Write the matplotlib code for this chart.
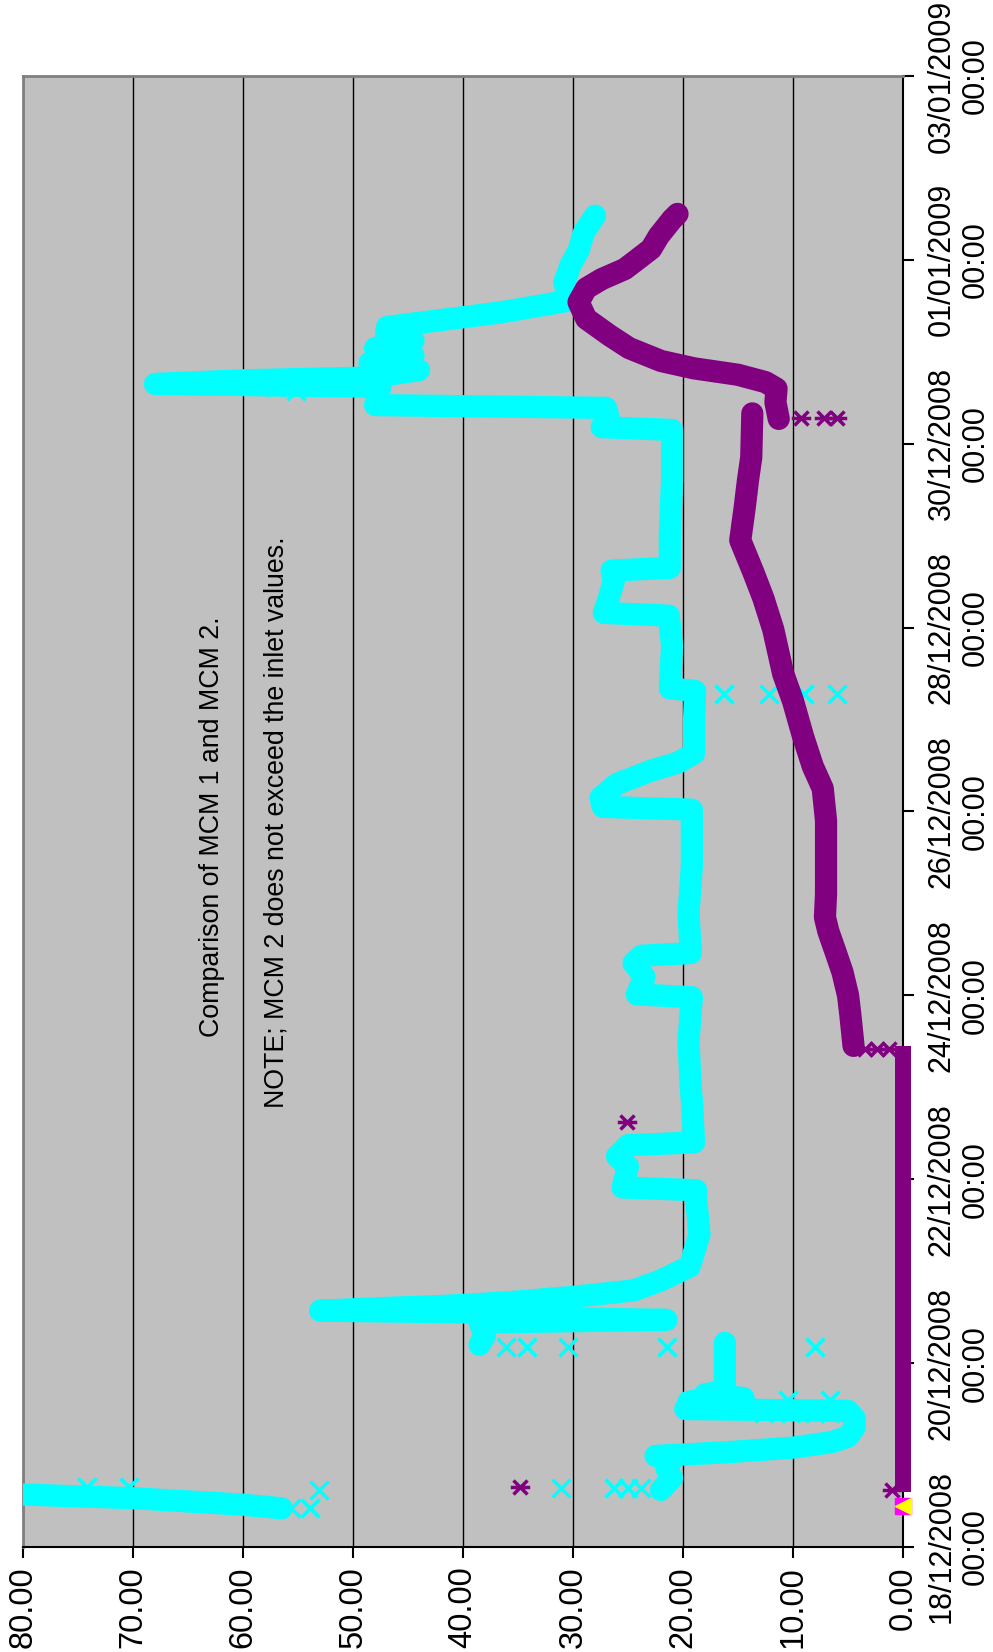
import numpy as np
import pandas as pd
import matplotlib
matplotlib.use('Agg')
import matplotlib.pyplot as plt
import matplotlib.dates as mdates
from matplotlib.path import Path
from matplotlib.ticker import FormatStrFormatter

plt.rcParams['font.family'] = ['Liberation Sans', 'DejaVu Sans']

start = pd.Timestamp('2008-12-18')
day_span = 16

# MCM 1 trace, days after 18/12/2008 00:00 and reading
mcm1_a_days = [0.42, 0.46, 0.53, 0.57, 0.59]
mcm1_a_vals = [56.5, 60.0, 70.0, 80.0, 84.0]

mcm1_b_days = [0.62, 0.75, 0.85, 0.95, 0.99, 1.03, 1.08, 1.14, 1.20, 1.30, 1.40, 1.48,
               1.50, 1.54, 1.58, 1.62, 1.66, 1.70, 2.00, 2.22]
mcm1_b_vals = [22.0, 21.0, 21.5, 21.0, 22.5, 16.0, 10.0, 6.5, 5.0, 4.4, 4.4, 5.0,
               19.8, 14.5, 19.5, 14.5, 18.0, 16.2, 16.2, 16.2]

mcm1_c_days = [2.20, 2.30, 2.44, 2.47, 2.50, 2.55, 2.57, 2.60, 2.62, 2.66, 2.72, 2.79,
               2.90, 3.05, 3.40, 3.77, 3.88, 3.91, 4.14, 4.25, 4.37, 4.40, 4.86,
               5.00, 5.50, 5.98, 6.01, 6.20, 6.35, 6.43, 6.46, 6.90, 7.40, 8.02,
               8.05, 8.15, 8.30, 8.44, 8.53, 8.63, 9.00, 9.31, 9.34, 9.80, 10.13,
               10.16, 10.30, 10.50, 10.62, 10.65, 11.00, 11.60, 12.15, 12.18, 12.30,
               12.39, 12.42, 12.62, 12.65, 12.69, 12.72, 12.80, 12.88, 12.96, 13.04,
               13.12, 13.20, 13.27, 13.43, 13.56, 13.75, 13.95, 14.10, 14.30, 14.48]
mcm1_c_vals = [38.5, 38.0, 38.5, 21.5, 38.5, 39.0, 53.0, 47.0, 42.0, 36.0, 30.0, 24.5,
               22.0, 19.4, 18.5, 18.8, 18.8, 25.5, 25.0, 26.0, 25.0, 19.0, 19.2,
               19.3, 19.5, 19.2, 24.2, 23.5, 24.5, 23.8, 19.3, 19.5, 19.2, 19.2,
               27.3, 27.5, 26.0, 23.0, 20.5, 19.0, 19.0, 18.9, 21.2, 21.0, 21.3,
               27.2, 26.8, 26.3, 26.5, 21.2, 21.2, 21.0, 21.0, 27.4, 26.8,
               27.0, 48.0, 47.5, 68.0, 60.0, 48.5, 44.0, 48.5, 44.5, 48.0,
               44.5, 47.0, 46.9, 36.5, 30.2, 30.8, 30.2, 29.5, 29.0, 28.0]

# isolated MCM 1 readings
mcm1_pt_days = [0.42, 0.42, 0.62, 0.65, 0.65, 0.64, 0.64, 0.64, 0.64,
                1.46, 1.46, 1.46, 1.46, 1.60, 1.60,
                2.18, 2.18, 2.18, 2.18, 2.18,
                9.28, 9.28, 9.28, 9.28, 12.57, 12.62]
mcm1_pt_vals = [55.6, 53.9, 53.1, 74.2, 70.4, 31.1, 26.3, 25.0, 23.8,
                12.6, 10.2, 8.0, 6.6, 10.5, 6.6,
                36.1, 34.2, 30.5, 21.5, 8.0,
                16.3, 12.2, 9.0, 6.0, 55.2, 57.0]

# MCM 2 trace
mcm2_zero_days = [0.60, 5.45]
mcm2_zero_vals = [0.0, 0.0]

mcm2_a_days = [5.45, 5.80, 6.00, 6.25, 6.46, 6.70, 6.85, 7.10, 7.42, 7.90, 8.25, 8.49,
               8.82, 9.20, 9.50, 9.98, 10.32, 10.60, 10.95, 11.30, 11.60, 11.85, 12.33]
mcm2_a_vals = [4.5, 4.8, 5.0, 5.5, 6.1, 6.8, 7.1, 7.0, 7.0, 7.0, 7.3, 8.2,
               9.1, 10.0, 10.9, 11.8, 12.7, 13.6, 14.8, 14.4, 14.1, 13.8, 13.7]

mcm2_b_days = [12.27, 12.45, 12.60, 12.67, 12.75, 12.82, 12.90, 13.04, 13.18, 13.36,
               13.54, 13.69, 13.79, 13.90, 14.00, 14.12, 14.26, 14.44, 14.50]
mcm2_b_vals = [11.3, 11.6, 11.5, 12.5, 15.0, 19.0, 22.0, 24.9, 26.7, 28.8,
               29.5, 28.8, 27.4, 25.3, 24.2, 22.9, 22.2, 21.0, 20.5]

mcm2_pt_days = [0.62, 0.65, 4.62, 5.42, 5.42, 5.42, 12.28, 12.28, 12.28]
mcm2_pt_vals = [1.0, 34.8, 25.1, 1.3, 2.4, 3.5, 9.3, 7.2, 6.0]

# the two single-reading series at the start
sq_days = [0.44]
sq_vals = [0.0]
tri_days = [0.44]
tri_vals = [0.0]

base = mdates.date2num(start)


def when(days):
    return base + np.asarray(days, dtype=float)


# asterisk: horizontal bar with a cross through it
star = Path([(-1, 0), (1, 0), (-0.72, -0.72), (0.72, 0.72), (-0.72, 0.72), (0.72, -0.72)],
            [Path.MOVETO, Path.LINETO] * 3)

cyan = '#00FFFF'
purple = '#800080'

fig = plt.figure(figsize=(9.93, 16.52), dpi=100)
ax = fig.add_axes([0.0232, 0.0636, 0.8862, 0.8904])
ax.set_facecolor('#C0C0C0')

band = dict(lw=16, solid_capstyle='round', solid_joinstyle='round')
for d, v in [(mcm1_a_days, mcm1_a_vals), (mcm1_b_days, mcm1_b_vals), (mcm1_c_days, mcm1_c_vals)]:
    ax.plot(v, when(d), color=cyan, zorder=3, **band)
ax.plot(mcm1_pt_vals, when(mcm1_pt_days), ls='none', marker='x', ms=12.5, mew=2.5,
        color=cyan, zorder=3)

ax.plot(mcm2_zero_vals, when(mcm2_zero_days), color=purple, lw=11.5,
        solid_capstyle='butt', zorder=4, clip_on=False)
for d, v in [(mcm2_a_days, mcm2_a_vals), (mcm2_b_days, mcm2_b_vals)]:
    ax.plot(v, when(d), color=purple, zorder=4, **band)
ax.plot(mcm2_pt_vals, when(mcm2_pt_days), ls='none', marker=star, ms=14, mew=2.5,
        color=purple, zorder=4)

ax.plot(sq_vals, when(sq_days), ls='none', marker='s', ms=11, color='#FF00FF',
        mec='#FF00FF', zorder=5, clip_on=False)
ax.plot(tri_vals, when(tri_days), ls='none', marker='<', ms=11, color='#FFFF00',
        mec='#FFFF00', zorder=6, clip_on=False)

ax.set_xlim(80, 0)
ax.set_ylim(base, base + day_span)

ax.set_xticks(np.arange(0, 81, 10))
ax.xaxis.set_major_formatter(FormatStrFormatter('%.2f'))
ax.set_yticks(base + np.arange(0, day_span + 1, 2))
ax.yaxis.set_major_formatter(mdates.DateFormatter('%d/%m/%Y\n%H:%M'))
ax.yaxis.tick_right()

ax.grid(axis='x', color='black', lw=1)
ax.set_axisbelow(True)

ax.tick_params(axis='x', direction='out', length=8, width=1.5, labelsize=23.5,
               labelrotation=90, pad=6)
ax.tick_params(axis='y', direction='out', length=8, width=1.5, labelsize=22,
               labelrotation=90, pad=9)
for lbl in ax.get_yticklabels():
    lbl.set_multialignment('center')
    lbl.set_verticalalignment('center')
    lbl.set_horizontalalignment('left')

for side in ['left', 'top']:
    ax.spines[side].set_color('#808080')
    ax.spines[side].set_linewidth(2)
for side in ['right', 'bottom']:
    ax.spines[side].set_color('black')
    ax.spines[side].set_linewidth(1.5)

fig.text(0.2135, 0.4994, 'Comparison of MCM 1 and MCM 2.', rotation=90,
         ha='center', va='center', fontsize=19.3)
fig.text(0.278, 0.5024, 'NOTE; MCM 2 does not exceed the inlet values.', rotation=90,
         ha='center', va='center', fontsize=19.3)

fig.savefig('out.png', dpi=100)
